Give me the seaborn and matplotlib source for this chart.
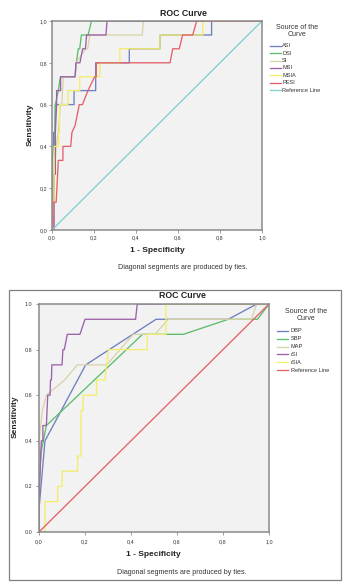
import numpy as np
import pandas as pd
import matplotlib
matplotlib.use("Agg")
import matplotlib.pyplot as plt
import seaborn as sns
from matplotlib.lines import Line2D
from matplotlib.patches import Rectangle

# ---------------- data (top panel) ----------------
top_names = ["ASI", "DSI", "SI", "MSI", "MSIA", "PESI"]
asi_fpr = [0, 0, 0.008, 0.008, 0.016, 0.016, 0.105, 0.105, 0.208, 0.208, 0.368, 0.368, 0.514, 0.514, 0.76, 0.76, 1]
asi_tpr = [0, 0.333, 0.4, 0.467, 0.467, 0.6, 0.6, 0.667, 0.667, 0.8, 0.8, 0.867, 0.867, 0.933, 0.933, 1.0, 1]
dsi_fpr = [0, 0, 0.01, 0.016, 0.03, 0.04, 0.11, 0.116, 0.125, 0.132, 0.14, 0.172, 0.188, 1]
dsi_tpr = [0, 0.067, 0.267, 0.6, 0.667, 0.733, 0.733, 0.8, 0.867, 0.867, 0.933, 0.933, 1.0, 1]
si_fpr = [0, 0, 0.02, 0.03, 0.04, 0.047, 0.05, 0.055, 0.11, 0.115, 0.16, 0.17, 0.18, 0.43, 0.435, 1]
si_tpr = [0, 0.067, 0.4, 0.467, 0.6, 0.6, 0.667, 0.733, 0.733, 0.8, 0.867, 0.867, 0.933, 0.933, 1.0, 1]
msi_fpr = [0, 0.01, 0.01, 0.016, 0.016, 0.022, 0.022, 0.041, 0.041, 0.11, 0.114, 0.133, 0.146, 0.159, 0.165, 0.257, 0.262, 1]
msi_tpr = [0, 0, 0.267, 0.267, 0.467, 0.6, 0.667, 0.667, 0.733, 0.733, 0.8, 0.8, 0.867, 0.867, 0.933, 0.933, 1.0, 1]
msia_fpr = [0, 0.005, 0.01, 0.01, 0.032, 0.032, 0.036, 0.036, 0.076, 0.076, 0.132, 0.132, 0.228, 0.228, 0.323, 0.323, 0.514, 0.514, 0.718, 0.718, 1]
msia_tpr = [0, 0.133, 0.133, 0.4, 0.4, 0.467, 0.467, 0.6, 0.6, 0.667, 0.667, 0.733, 0.733, 0.8, 0.8, 0.867, 0.867, 0.933, 0.933, 1.0, 1]
pesi_fpr = [0, 0.005, 0.005, 0.02, 0.03, 0.037, 0.052, 0.052, 0.089, 0.095, 0.11, 0.13, 0.145, 0.171, 0.203, 0.211, 0.211, 0.562, 0.575, 0.606, 0.622, 0.67, 0.689, 1]
pesi_tpr = [0, 0, 0.133, 0.133, 0.333, 0.333, 0.333, 0.4, 0.4, 0.467, 0.5, 0.6, 0.6, 0.667, 0.733, 0.733, 0.8, 0.8, 0.867, 0.867, 0.933, 0.933, 1.0, 1]
top_fprs = [asi_fpr, dsi_fpr, si_fpr, msi_fpr, msia_fpr, pesi_fpr]
top_tprs = [asi_tpr, dsi_tpr, si_tpr, msi_tpr, msia_tpr, pesi_tpr]

# ---------------- data (bottom panel) ----------------
bot_names = ["DBP", "SBP", "MAP", "rSI", "rSIA"]
dbp_fpr = [0, 0, 0.026, 0.203, 0.509, 0.562, 0.823, 0.947, 1]
dbp_tpr = [0, 0.1, 0.4, 0.733, 0.933, 0.933, 0.933, 1.0, 1]
sbp_fpr = [0, 0, 0.009, 0.032, 0.45, 0.628, 0.823, 0.95, 1]
sbp_tpr = [0, 0.2, 0.35, 0.467, 0.867, 0.867, 0.933, 0.933, 1]
map_fpr = [0, 0, 0.015, 0.032, 0.112, 0.166, 0.294, 0.41, 0.504, 0.5625, 0.923, 0.947, 1]
map_tpr = [0, 0.4, 0.533, 0.6, 0.667, 0.733, 0.733, 0.867, 0.867, 0.933, 0.933, 1.0, 1]
rsi_fpr = [0, 0, 0.01, 0.017, 0.017, 0.032, 0.038, 0.048, 0.05, 0.054, 0.056, 0.1, 0.104, 0.11, 0.123, 0.178, 0.2, 0.42, 0.427, 1]
rsi_tpr = [0, 0.133, 0.4, 0.4, 0.467, 0.467, 0.6, 0.6, 0.667, 0.667, 0.733, 0.733, 0.8, 0.8, 0.867, 0.867, 0.933, 0.933, 1.0, 1]
rsia_fpr = [0, 0.026, 0.026, 0.081, 0.081, 0.101, 0.101, 0.168, 0.168, 0.183, 0.183, 0.192, 0.192, 0.25, 0.25, 0.287, 0.294, 0.302, 0.471, 0.471, 0.552, 0.552, 1]
rsia_tpr = [0, 0, 0.133, 0.133, 0.2, 0.2, 0.267, 0.267, 0.333, 0.333, 0.533, 0.533, 0.6, 0.6, 0.667, 0.667, 0.733, 0.8, 0.8, 0.867, 0.867, 1.0, 1]
bot_fprs = [dbp_fpr, sbp_fpr, map_fpr, rsi_fpr, rsia_fpr]
bot_tprs = [dbp_tpr, sbp_tpr, map_tpr, rsi_tpr, rsia_tpr]

ref_x = [0, 1]
ref_y = [0, 1]

top_colors = ["#6e7fbf", "#5cbd6c", "#d9d4a8", "#9b62a9", "#f3ee6a", "#e4616a"]
top_ref_color = "#80cfd1"
bot_colors = ["#6e7fbf", "#5cbd6c", "#d9d4a8", "#9b62a9", "#f3ee6a"]
bot_ref_color = "#e4616a"

# ---------------- figure ----------------
W, H = 346, 585
fig = plt.figure(figsize=(W / 100, H / 100), dpi=100)
plt.rcParams['font.family'] = ['Liberation Sans', 'DejaVu Sans']

def fx(x):
    return x / W

def fy(y):
    return 1 - y / H

def build_df(names, fprs, tprs):
    rows = []
    for n, xs, ys in zip(names, fprs, tprs):
        for i, (a, b) in enumerate(zip(xs, ys)):
            rows.append({"curve": n, "fpr": a, "tpr": b, "order": i})
    return pd.DataFrame(rows)

def style_axes(ax, ylabfmt, pad):
    ax.set_facecolor("#f2f2f2")
    for s in ax.spines.values():
        s.set_color("#8a8a8a")
        s.set_linewidth(1.1)
    ax.set_xlim(0, 1)
    ax.set_ylim(0, 1)
    ticks = [0, 0.2, 0.4, 0.6, 0.8, 1.0]
    ax.set_xticks(ticks)
    ax.set_yticks(ticks)
    ax.set_xticklabels([f"{t:.1f}".replace(".", ",") for t in ticks])
    ax.set_yticklabels([ylabfmt(t) for t in ticks])
    ax.tick_params(length=2.5, width=0.6, color="#8a8a8a", labelsize=3.9,
                   labelcolor="#333333", pad=pad)
    ax.set_xlabel("")
    ax.set_ylabel("")

def draw_panel(ax, names, fprs, tprs, colors, ref_color):
    df = build_df(names, fprs, tprs)
    for n, c in zip(names, colors):
        sub = df[df.curve == n]
        sns.lineplot(data=sub, x="fpr", y="tpr", sort=False, estimator=None,
                     color=c, linewidth=0.95, ax=ax, legend=False)
    sns.lineplot(x=ref_x, y=ref_y, color=ref_color, linewidth=0.95, ax=ax,
                 legend=False, sort=False, estimator=None)

def legend(names, colors, tcx, ty, ly0, dy, lx0, lx1, tx):
    fig.text(fx(tcx), fy(ty), "Source of the", ha="center", va="center",
             fontsize=5.0, color="#333333")
    fig.text(fx(tcx), fy(ty + 7.2), "Curve", ha="center", va="center",
             fontsize=5.0, color="#333333")
    for i, (n, c) in enumerate(zip(names, colors)):
        y = ly0 + i * dy
        fig.add_artist(Line2D([fx(lx0), fx(lx1)], [fy(y), fy(y)],
                              transform=fig.transFigure, color=c, lw=0.95))
        fig.text(fx(tx), fy(y), n, ha="left", va="center", fontsize=4.1,
                 color="#333333")

# top panel
ax1 = fig.add_axes([fx(52), fy(230), 210 / W, 209 / H])
draw_panel(ax1, top_names, top_fprs, top_tprs, top_colors, top_ref_color)
style_axes(ax1, lambda t: f"{t:.1f}".replace(".", ","), 1.0)
fig.text(fx(183), fy(13.5), "ROC Curve", ha="center", va="center",
         fontsize=6.3, fontweight="bold", color="#222222")
fig.text(fx(30), fy(125), "Sensitivity", ha="center", va="center",
         rotation=90, fontsize=6.0, fontweight="bold", color="#222222")
fig.text(fx(157), fy(251), "1 - Specificity", ha="center", va="center",
         fontsize=6.0, fontweight="bold", color="#222222")
fig.text(fx(183), fy(268), "Diagonal segments are produced by ties.",
         ha="center", va="center", fontsize=5.1, color="#333333")
legend(top_names + ["Reference Line"], top_colors + [top_ref_color],
       297, 27.3, 45.7, 7.4, 270, 280.7, 282.3)

# bottom panel
ax2 = fig.add_axes([fx(39), fy(532), 230 / W, 228 / H])
draw_panel(ax2, bot_names, bot_fprs, bot_tprs, bot_colors, bot_ref_color)
style_axes(ax2, lambda t: f"{t:.1f}", 2.5)
fig.text(fx(182), fy(296), "ROC Curve", ha="center", va="center",
         fontsize=6.3, fontweight="bold", color="#222222")
fig.text(fx(15), fy(417), "Sensitivity", ha="center", va="center",
         rotation=90, fontsize=6.0, fontweight="bold", color="#222222")
fig.text(fx(153), fy(555), "1 - Specificity", ha="center", va="center",
         fontsize=6.0, fontweight="bold", color="#222222")
fig.text(fx(182), fy(573), "Diagonal segments are produced by ties.",
         ha="center", va="center", fontsize=5.1, color="#333333")
legend(bot_names + ["Reference Line"], bot_colors + [bot_ref_color],
       306, 311.7, 331, 7.8, 276.7, 288.3, 290.7)

# outer frame of bottom panel
fig.add_artist(Rectangle((fx(9.3), fy(580)), (340.7 - 9.3) / W, (580 - 290) / H,
                         transform=fig.transFigure, fill=False,
                         edgecolor="#808080", linewidth=0.9))

fig.savefig("out.png", dpi=100, facecolor="white")
